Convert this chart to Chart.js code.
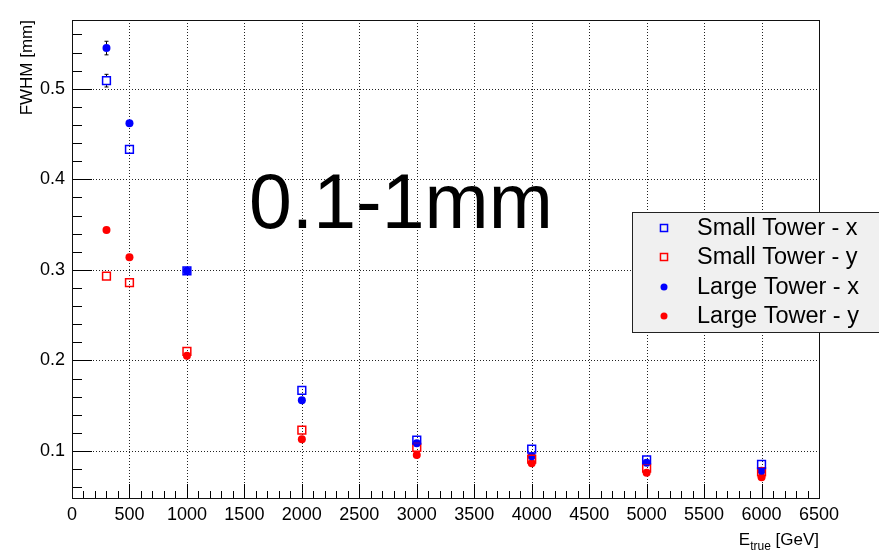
<!DOCTYPE html>
<html lang="en">
<head>
<meta charset="UTF-8">
<title>FWHM vs E_true</title>
<style>
body { margin: 0; background: #fff; }
#chart { display: block; }
</style>
</head>
<body>
<canvas id="chart" width="879" height="550"></canvas>
<script src="https://cdn.jsdelivr.net/npm/chart.js"></script>
<script>
// energies [GeV]
const energies = [300, 500, 1000, 2000, 3000, 4000, 5000, 6000];
// FWHM [mm]
const smallX = [0.509, 0.433, 0.299, 0.167, 0.112, 0.102, 0.090, 0.085];
const smallY = [0.293, 0.286, 0.210, 0.123, 0.104, 0.091, 0.081, 0.077];
const largeX = [0.545, 0.462, 0.299, 0.156, 0.1085, 0.094, 0.087, 0.078];
const largeY = [0.344, 0.314, 0.205, 0.113, 0.0956, 0.0865, 0.076, 0.071];
// errors, only the first points stick out of the markers
const smallXErr = [0.007, 0.003, 0.002, 0.002, 0.002, 0.002, 0.002, 0.002];
const smallYErr = [0.003, 0.003, 0.002, 0.002, 0.002, 0.002, 0.002, 0.002];
const largeXErr = [0.0075, 0.003, 0.002, 0.002, 0.002, 0.002, 0.002, 0.002];
const largeYErr = [0.003, 0.003, 0.002, 0.002, 0.002, 0.002, 0.002, 0.002];
const seriesNames = ['Small Tower - x', 'Small Tower - y', 'Large Tower - x', 'Large Tower - y'];

const xTicks = [0, 500, 1000, 1500, 2000, 2500, 3000, 3500, 4000, 4500, 5000, 5500, 6000, 6500];
const xTickLabels = ['0', '500', '1000', '1500', '2000', '2500', '3000', '3500', '4000', '4500', '5000', '5500', '6000', '6500'];
const yTicks = [0.1, 0.2, 0.3, 0.4, 0.5];
const yTickLabels = ['0.1', '0.2', '0.3', '0.4', '0.5'];

const FONT = '"Liberation Sans", Arial, Helvetica, sans-serif';

function pts(ys, errs) {
  return energies.map((e, i) => ({ x: e, y: ys[i], err: errs[i] }));
}

function openSquare(name, color, ys, errs) {
  return {
    label: name, data: pts(ys, errs),
    pointStyle: 'rect', pointRadius: 5.5, pointHoverRadius: 5.5,
    borderColor: color, backgroundColor: 'rgba(0,0,0,0)', borderWidth: 1.5,
    showLine: false
  };
}
function dot(name, color, ys, errs) {
  return {
    label: name, data: pts(ys, errs),
    pointStyle: 'circle', pointRadius: 4, pointHoverRadius: 4,
    borderColor: color, backgroundColor: color, borderWidth: 0,
    showLine: false
  };
}

// grid, inner ticks, frame and error bars, ROOT style
const rootFrame = {
  id: 'rootFrame',
  beforeDatasetsDraw(chart) {
    const { ctx, chartArea: a, scales: { x, y } } = chart;
    ctx.save();
    // dotted grid
    ctx.strokeStyle = '#222';
    ctx.lineWidth = 1;
    ctx.setLineDash([1, 2]);
    xTicks.forEach(v => {
      const px = Math.round(x.getPixelForValue(v)) + 0.5;
      ctx.beginPath(); ctx.moveTo(px, a.top); ctx.lineTo(px, a.bottom); ctx.stroke();
    });
    yTicks.forEach(v => {
      const py = Math.round(y.getPixelForValue(v)) + 0.5;
      ctx.beginPath(); ctx.moveTo(a.left, py); ctx.lineTo(a.right, py); ctx.stroke();
    });
    ctx.setLineDash([]);
    // ticks inside the frame
    ctx.strokeStyle = '#000';
    for (let v = 0; v <= 6500; v += 100) {
      const px = Math.round(x.getPixelForValue(v)) + 0.5;
      const len = v % 500 === 0 ? 14 : 7;
      ctx.beginPath(); ctx.moveTo(px, a.bottom); ctx.lineTo(px, a.bottom - len); ctx.stroke();
    }
    for (let k = 3; k <= 28; k++) {
      const v = k * 0.02;
      const py = Math.round(y.getPixelForValue(v)) + 0.5;
      const len = k % 5 === 0 ? 20 : 10;
      ctx.beginPath(); ctx.moveTo(a.left, py); ctx.lineTo(a.left + len, py); ctx.stroke();
    }
    // frame
    ctx.strokeStyle = '#111';
    ctx.strokeRect(Math.round(a.left) + 0.5, Math.round(a.top) + 0.5,
      Math.round(a.right - a.left), Math.round(a.bottom - a.top));
    // error bars, only the part outside the marker
    ctx.strokeStyle = '#000';
    chart.data.datasets.forEach(ds => {
      const half = ds.pointStyle === 'rect' ? 4.5 : 4;
      ds.data.forEach(p => {
        const px = Math.round(x.getPixelForValue(p.x)) + 0.5;
        const py = y.getPixelForValue(p.y);
        const y1 = y.getPixelForValue(p.y - p.err);
        const y2 = y.getPixelForValue(p.y + p.err);
        if (y1 - py <= half + 1) return;
        ctx.beginPath();
        ctx.moveTo(px, y2); ctx.lineTo(px, py - half);
        ctx.moveTo(px, py + half); ctx.lineTo(px, y1);
        ctx.moveTo(px - 2, y1); ctx.lineTo(px + 2, y1);
        ctx.moveTo(px - 2, y2); ctx.lineTo(px + 2, y2);
        ctx.stroke();
      });
    });
    ctx.restore();
  },
  afterDatasetsDraw(chart) {
    const { ctx, chartArea: a } = chart;
    ctx.save();
    ctx.fillStyle = '#000';
    // big label
    ctx.font = '77px ' + FONT;
    ctx.textBaseline = 'alphabetic';
    ctx.textAlign = 'left';
    ctx.fillText('0.1-1mm', 249, 228);

    // axis titles
    ctx.font = '17px ' + FONT;
    ctx.textAlign = 'left';
    const w1 = ctx.measureText('E').width;
    const w3 = ctx.measureText(' [GeV]').width;
    ctx.font = '12px ' + FONT;
    const w2 = ctx.measureText('true').width;
    let tx = a.right - (w1 + w2 + w3);
    ctx.font = '17px ' + FONT;
    ctx.fillText('E', tx, 545);
    ctx.font = '12px ' + FONT;
    ctx.fillText('true', tx + w1, 550);
    ctx.font = '17px ' + FONT;
    ctx.fillText(' [GeV]', tx + w1 + w2, 545);

    ctx.translate(32, a.top);
    ctx.rotate(-Math.PI / 2);
    ctx.textAlign = 'right';
    ctx.fillText('FWHM [mm]', 0, 0);
    ctx.restore();

    // legend box
    ctx.save();
    ctx.fillStyle = '#f0f0f0';
    ctx.fillRect(632, 212, 260, 120);
    ctx.strokeStyle = '#222';
    ctx.lineWidth = 1;
    ctx.strokeRect(632.5, 212.5, 260, 120);
    const rows = [228, 257, 287, 316];
    chart.data.datasets.forEach((ds, i) => {
      ctx.fillStyle = ds.backgroundColor;
      ctx.strokeStyle = ds.borderColor;
      ctx.lineWidth = ds.borderWidth;
      const r = ds.pointStyle === 'rect' ? 5 : 3.5;
      Chart.helpers.drawPoint(ctx, { pointStyle: ds.pointStyle, radius: r, borderWidth: ds.borderWidth }, 664, rows[i]);
      ctx.fillStyle = '#000';
      ctx.font = '23.5px ' + FONT;
      ctx.textBaseline = 'alphabetic';
      ctx.fillText(ds.label, 697, rows[i] + 7);
    });
    ctx.restore();
  }
};

new Chart(document.getElementById('chart'), {
  type: 'scatter',
  data: {
    datasets: [
      openSquare(seriesNames[0], '#0000ff', smallX, smallXErr),
      openSquare(seriesNames[1], '#ff0000', smallY, smallYErr),
      dot(seriesNames[2], '#0000ff', largeX, largeXErr),
      dot(seriesNames[3], '#ff0000', largeY, largeYErr)
    ]
  },
  options: {
    responsive: false,
    animation: false,
    layout: { padding: { top: 20, right: 60, bottom: 0, left: 0 } },
    plugins: { legend: { display: false }, tooltip: { enabled: false } },
    scales: {
      x: {
        type: 'linear', min: 0, max: 6500,
        grid: { display: false, drawTicks: false },
        border: { display: false },
        afterBuildTicks: s => { s.ticks = xTicks.map(v => ({ value: v })); },
        afterFit: s => { s.height = 52; },
        ticks: {
          padding: 6, color: '#000', maxRotation: 0, autoSkip: false,
          font: { family: FONT, size: 18 },
          callback: (v, i) => xTickLabels[i]
        }
      },
      y: {
        type: 'linear', min: 0.048, max: 0.576,
        grid: { display: false, drawTicks: false },
        border: { display: false },
        afterBuildTicks: s => { s.ticks = yTicks.map(v => ({ value: v })); },
        afterFit: s => { s.width = 72; },
        ticks: {
          padding: 7, color: '#000',
          font: { family: FONT, size: 18 },
          callback: (v, i) => yTickLabels[i]
        }
      }
    }
  },
  plugins: [rootFrame]
});
</script>
</body>
</html>
